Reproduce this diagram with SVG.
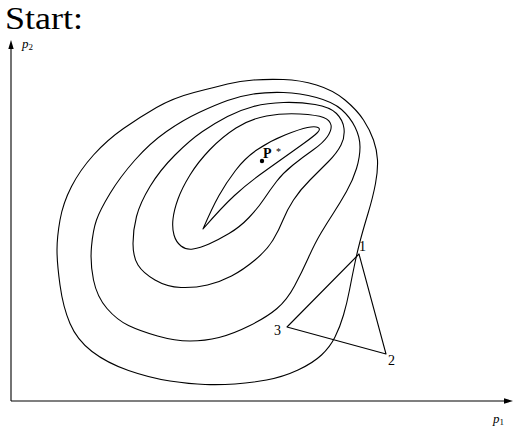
<svg xmlns="http://www.w3.org/2000/svg" width="513" height="434" viewBox="0 0 513 434">
<style>
.c{fill:none;stroke:#000;stroke-width:1.1;stroke-linejoin:round}
.ax{fill:none;stroke:#000;stroke-width:1.1}
.t{font-family:"Liberation Serif","DejaVu Serif",serif;fill:#000}
</style>
<rect width="513" height="434" fill="#fff"/>
<text class="t" x="5" y="29" font-size="32" textLength="78" lengthAdjust="spacingAndGlyphs">Start:</text>
<g id="axes">
<line class="ax" x1="11" y1="401" x2="11" y2="47"/>
<polygon points="11,40 8.3,49 13.7,49" fill="#000"/>
<line class="ax" x1="11" y1="401" x2="505" y2="401"/>
<polygon points="513,401 504,398.3 504,403.7" fill="#000"/>
<text class="t" x="22" y="48" font-size="13" font-style="italic">p<tspan font-size="9" font-style="normal" dy="1.5">2</tspan></text>
<text class="t" x="493" y="423" font-size="13" font-style="italic">p<tspan font-size="9" font-style="normal" dy="1.5">1</tspan></text>
</g>
<g id="contours">
<path id="c1" class="c" d="M 283.5,79.5 Q 300,80 316.5,85 Q 333,90 345,100 Q 357,110 363.5,120 Q 370,130 373.5,140 Q 377,150 377.5,160 Q 378,170 375.5,183.5 Q 373,197 368,213.5 Q 363,230 360,241.5 Q 357,253 354.5,265 Q 352,277 349.5,290 Q 347,303 343.5,315 Q 340,327 335,337 Q 330,347 321.5,355 Q 313,363 298,370 Q 283,377 266.5,380 Q 250,383 235,384 Q 220,385 205,384.5 Q 190,384 170,381 Q 150,378 128.5,370.5 Q 107,363 92,351.5 Q 77,340 70,323.5 Q 63,307 60,285 Q 57,263 57,250 Q 57,237 60,220 Q 63,203 71.5,186.5 Q 80,170 93.5,155 Q 107,140 123.5,128.5 Q 140,117 156.5,107.5 Q 173,98 194,92.5 Q 215,87 227.5,84 Q 240,81 253.5,80 Q 267,79 283.5,79.5 Z"/>
<path id="c2" class="c" d="M 283.5,92.5 Q 300,93 316.5,97.5 Q 333,102 341.5,109.5 Q 350,117 355,127 Q 360,137 360,147 Q 360,157 356.5,168.5 Q 353,180 346.5,191.5 Q 340,203 333.5,213 Q 327,223 321,233 Q 315,243 308.5,257.5 Q 302,272 294.5,286 Q 287,300 277,308.5 Q 267,317 250,325.5 Q 233,334 219,337.5 Q 205,341 190,341 Q 175,341 157.5,336 Q 140,331 128.5,325.5 Q 117,320 107,308.5 Q 97,297 93.5,280 Q 90,263 91.5,246.5 Q 93,230 96.5,220 Q 100,210 110,193.5 Q 120,177 135,160 Q 150,143 166.5,131.5 Q 183,120 199,112.5 Q 215,105 227.5,100.5 Q 240,96 253.5,94 Q 267,92 283.5,92.5 Z"/>
<path id="c3" class="c" d="M 283.5,102.5 Q 300,102 315,104.5 Q 330,107 336.5,113.5 Q 343,120 344,128.5 Q 345,137 341,145 Q 337,153 328.5,161.5 Q 320,170 310,180 Q 300,190 293.5,200 Q 287,210 283,220 Q 279,230 273,240 Q 267,250 255,260 Q 243,270 231.5,276 Q 220,282 207.5,285 Q 195,288 181,287.5 Q 167,287 155,280 Q 143,273 138,265 Q 133,257 133,243.5 Q 133,230 136.5,216.5 Q 140,203 150,186.5 Q 160,170 175,155 Q 190,140 202.5,131.5 Q 215,123 227.5,116.5 Q 240,110 253.5,106.5 Q 267,103 283.5,102.5 Z"/>
<path id="c4" class="c" d="M 266.5,116 Q 283,113 300,114 Q 317,115 323.5,117.5 Q 330,120 331,125 Q 332,130 327.5,136.5 Q 323,143 313,150 Q 303,157 293,165 Q 283,173 276.5,181.5 Q 270,190 264,199 Q 258,208 249,217.5 Q 240,227 229,233.5 Q 218,240 209,244 Q 200,248 193,249 Q 186,250 181,246 Q 176,242 174,235 Q 172,228 173,219 Q 174,210 178,199 Q 182,188 190,175 Q 198,162 210,149.5 Q 222,137 236,128 Q 250,119 266.5,116 Z"/>
<path id="c5" class="c" d="M 203,229 Q 222,207 234.5,195.5 Q 247,184 259.5,175 Q 272,166 284,157.5 Q 296,149 305,142.5 Q 314,136 317.5,132.5 Q 321,129 318,127.5 Q 315,126 307.5,127.5 Q 300,129 285,135 Q 270,141 257.5,149.5 Q 245,158 235.5,170.5 Q 226,183 219,195.5 Q 212,208 203,229 Z"/>
</g>
<g id="optimum">
<circle cx="262" cy="161" r="2.2" fill="#000"/>
<text class="t" x="263" y="158" font-size="14" font-weight="bold">P</text>
<text class="t" x="276" y="155" font-size="10">*</text>
</g>
<g id="simplex">
<polygon class="c" points="359,254 386,354 287,327"/>
<text class="t" x="359" y="251" font-size="14">1</text>
<text class="t" x="388" y="365" font-size="14">2</text>
<text class="t" x="274" y="335" font-size="14">3</text>
</g>
</svg>
